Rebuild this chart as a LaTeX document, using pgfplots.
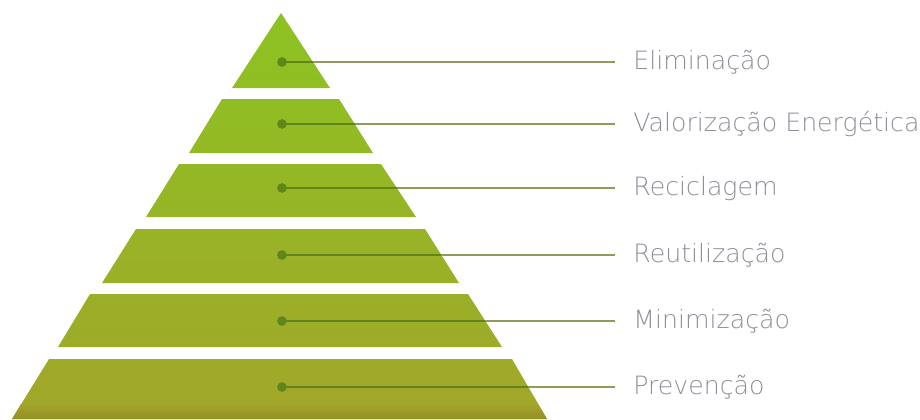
\documentclass[border=0pt]{standalone}
\usepackage{fontspec}
\setmainfont{DejaVu Sans}[UprightFont=* ExtraLight]
\usepackage{pgfplots}
\pgfplotsset{compat=1.18}
\definecolor{pyrG}{HTML}{8CC322}
\definecolor{pyrO}{HTML}{A2A62A}
\definecolor{pyrD}{HTML}{938E24}
\definecolor{lineOut}{HTML}{8E9C58}
\definecolor{lineIn}{HTML}{62841A}
\definecolor{dotC}{HTML}{5E861A}
\definecolor{labC}{HTML}{8E8E9A}
\begin{document}
\begin{tikzpicture}
\begin{axis}[scale only axis, width=460pt, height=209.5pt,
  xmin=0, xmax=920, ymin=0, ymax=419, y dir=reverse, hide axis, clip=true]
% invisible frame so that the picture keeps the full axis box
\addplot[draw=none, forget plot] coordinates {(0,0) (920,419)};
% tiers (pixel coordinates, y downward)
\addplot[draw=none, top color=pyrG, bottom color=pyrO!18!pyrG] coordinates {(232,88) (281,13) (330,88)} -- cycle;
\addplot[draw=none, top color=pyrO!21!pyrG, bottom color=pyrO!34!pyrG] coordinates {(189,153) (222,99) (339,99) (373,153)} -- cycle;
\addplot[draw=none, top color=pyrO!37!pyrG, bottom color=pyrO!50!pyrG] coordinates {(146,217) (179,164) (381,164) (416,217)} -- cycle;
\addplot[draw=none, top color=pyrO!53!pyrG, bottom color=pyrO!66!pyrG] coordinates {(102,283) (136,229) (425,229) (459,283)} -- cycle;
\addplot[draw=none, top color=pyrO!69!pyrG, bottom color=pyrO!82!pyrG] coordinates {(58,347) (90,294) (468,294) (502,347)} -- cycle;
\addplot[draw=none, top color=pyrO!85!pyrG, bottom color=pyrO] coordinates {(12,419) (49,359) (512,359) (547,419)} -- cycle;
\addplot[draw=none, top color=pyrO, bottom color=pyrD] coordinates {(21,404) (538,404) (547,419) (12,419)} -- cycle;
% leader lines
\addplot[draw=lineOut, line width=1pt] coordinates {(282,62) (615,62)};
\addplot[draw=lineOut, line width=1pt] coordinates {(282,124) (615,124)};
\addplot[draw=lineOut, line width=1pt] coordinates {(282,188) (615,188)};
\addplot[draw=lineOut, line width=1pt] coordinates {(282,255) (615,255)};
\addplot[draw=lineOut, line width=1pt] coordinates {(282,321) (615,321)};
\addplot[draw=lineOut, line width=1pt] coordinates {(282,387) (615,387)};
\addplot[draw=lineIn, line width=0.9pt] coordinates {(282,62) (313,62)};
\addplot[draw=lineIn, line width=0.9pt] coordinates {(282,124) (355,124)};
\addplot[draw=lineIn, line width=0.9pt] coordinates {(282,188) (397,188)};
\addplot[draw=lineIn, line width=0.9pt] coordinates {(282,255) (441,255)};
\addplot[draw=lineIn, line width=0.9pt] coordinates {(282,321) (485,321)};
\addplot[draw=lineIn, line width=0.9pt] coordinates {(282,387) (528,387)};
% dots
\addplot[only marks, mark=*, mark size=2.2pt, color=dotC] coordinates {(282,62) (282,124) (282,188) (282,255) (282,321) (282,387)};
% labels
\node[anchor=base west, text=labC, font=\fontsize{12.6}{14}\selectfont, inner sep=0pt] at (axis cs:633,69.5) {Eliminação};
\node[anchor=base west, text=labC, font=\fontsize{12.6}{14}\selectfont, inner sep=0pt] at (axis cs:633,131.5) {Valorização Energética};
\node[anchor=base west, text=labC, font=\fontsize{12.6}{14}\selectfont, inner sep=0pt] at (axis cs:633,195.5) {Reciclagem};
\node[anchor=base west, text=labC, font=\fontsize{12.6}{14}\selectfont, inner sep=0pt] at (axis cs:633,262.5) {Reutilização};
\node[anchor=base west, text=labC, font=\fontsize{12.6}{14}\selectfont, inner sep=0pt] at (axis cs:633,328.5) {Minimização};
\node[anchor=base west, text=labC, font=\fontsize{12.6}{14}\selectfont, inner sep=0pt] at (axis cs:633,394.5) {Prevenção};
\end{axis}
\end{tikzpicture}
\end{document}
